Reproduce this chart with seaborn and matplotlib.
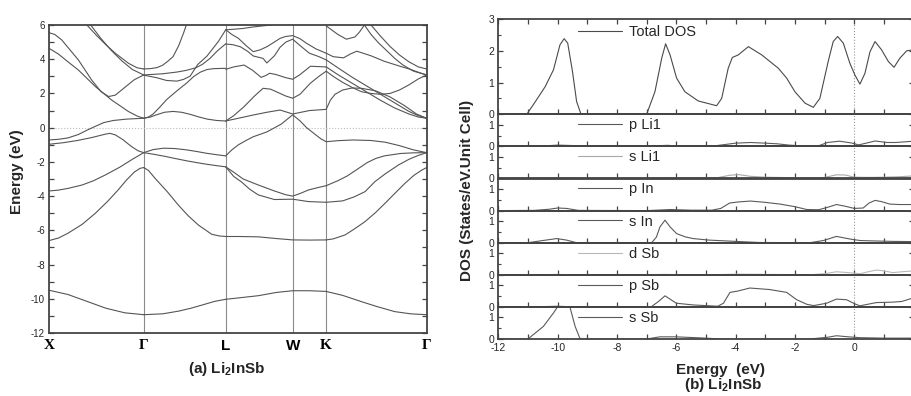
import matplotlib
matplotlib.use("Agg")
import matplotlib.pyplot as plt
import seaborn as sns
import pandas as pd
from matplotlib.ticker import MultipleLocator, FixedLocator

sns.set_style("ticks")
plt.rcParams["font.family"] = ["Liberation Sans", "DejaVu Sans"]
plt.rcParams["mathtext.fontset"] = "custom"
plt.rcParams["mathtext.rm"] = "Liberation Sans"
plt.rcParams["mathtext.bf"] = "Liberation Sans:bold"
plt.rcParams["axes.unicode_minus"] = False

# ---------------- band structure data (k in path units, E in eV) ----------------
K_POINTS = [0.0, 1.0, 1.866, 2.573, 2.927, 3.988]
K_LABELS = ["X", "\u0393", "L", "W", "K", "\u0393"]
K_FONTS = ["Liberation Serif", "Liberation Serif", "Liberation Sans",
           "Liberation Sans", "Liberation Serif", "Liberation Serif"]

# X - Gamma
xg_1 = [(0, -9.5), (0.2, -9.75), (0.4, -10.15), (0.6, -10.55), (0.8, -10.82), (1, -10.93)]
xg_2 = [(0, -6.6), (0.1, -6.45), (0.2, -6.17), (0.35, -5.65), (0.49, -5.0), (0.62, -4.3),
        (0.73, -3.64), (0.82, -3.05), (0.9, -2.6), (0.96, -2.38), (1, -2.33)]
xg_3 = [(0, -3.7), (0.1, -3.65), (0.2, -3.55), (0.35, -3.35), (0.47, -3.1), (0.6, -2.75),
        (0.75, -2.3), (0.88, -1.85), (1, -1.46)]
xg_4 = [(0, -0.97), (0.15, -0.88), (0.3, -0.75), (0.45, -0.58), (0.58, -0.4), (0.64, -0.33),
        (0.7, -0.42), (0.78, -0.7), (0.87, -1.1), (0.94, -1.35), (1, -1.46)]
xg_5 = [(0, -0.72), (0.1, -0.68), (0.2, -0.6), (0.31, -0.4), (0.4, -0.15), (0.49, 0.08),
        (0.58, 0.3), (0.68, 0.42), (0.82, 0.5), (1, 0.55)]
xg_6 = [(0, 4.64), (0.1, 4.3), (0.2, 3.85), (0.31, 3.37), (0.49, 2.4), (0.66, 1.62),
        (0.84, 0.94), (0.93, 0.68), (1, 0.55)]
xg_7 = [(0, 5.55), (0.06, 5.45), (0.134, 5.13), (0.31, 3.96), (0.45, 2.79), (0.55, 2.1),
        (0.63, 1.82), (0.7, 1.9), (0.8, 2.35), (0.9, 2.8), (1, 3.08)]
xg_8 = [(0.40, 6.0), (0.5, 5.4), (0.6, 4.85), (0.7, 4.35), (0.84, 3.76), (0.93, 3.5), (1, 3.43)]
xg_9 = [(0.44, 6.0), (0.55, 5.2), (0.66, 4.5), (0.77, 3.9), (0.88, 3.4), (1, 3.08)]

# Gamma - L
gl_1 = [(1, -10.93), (1.2, -10.88), (1.37, -10.72), (1.5, -10.55), (1.62, -10.36),
        (1.75, -10.15), (1.866, -10.03)]
gl_2 = [(1, -2.33), (1.05, -2.5), (1.12, -2.96), (1.25, -3.75), (1.365, -4.52), (1.47, -5.15),
        (1.577, -5.69), (1.718, -6.23), (1.8, -6.33), (1.866, -6.36)]
gl_3 = [(1, -1.46), (1.1, -1.28), (1.21, -1.2), (1.33, -1.22), (1.456, -1.3), (1.567, -1.4),
        (1.667, -1.5), (1.77, -1.58), (1.866, -1.65)]
gl_4 = [(1, -1.46), (1.1, -1.55), (1.21, -1.66), (1.33, -1.8), (1.456, -1.94), (1.567, -2.05),
        (1.667, -2.14), (1.77, -2.22), (1.866, -2.29)]
gl_5 = [(1, 0.55), (1.07, 0.62), (1.14, 0.76), (1.22, 0.9), (1.31, 0.95), (1.4, 0.9),
        (1.49, 0.78), (1.58, 0.63), (1.67, 0.5), (1.77, 0.42), (1.866, 0.39)]
gl_6 = [(1, 0.55), (1.05, 0.62), (1.1, 0.8), (1.17, 1.2), (1.244, 1.65), (1.35, 2.15),
        (1.456, 2.62), (1.53, 3.0), (1.6, 3.25), (1.67, 3.4), (1.74, 3.45), (1.866, 3.47)]
gl_7 = [(1, 3.43), (1.07, 3.45), (1.14, 3.51), (1.2, 3.65), (1.25, 3.86), (1.31, 4.15),
        (1.37, 4.8), (1.42, 5.52), (1.45, 6.0)]
gl_8 = [(1, 3.08), (1.2, 3.15), (1.35, 3.25), (1.45, 3.35), (1.55, 3.5), (1.62, 3.7),
        (1.7, 4.05), (1.78, 4.5), (1.866, 4.9)]
gl_9 = [(1, 3.07), (1.137, 2.92), (1.24, 2.76), (1.35, 2.72), (1.42, 2.82), (1.49, 3.01),
        (1.57, 3.69), (1.666, 4.17), (1.79, 5.05), (1.866, 5.72)]

# L - W - K
lk_1 = [(1.866, -10.03), (2.0, -9.95), (2.21, -9.82), (2.4, -9.63), (2.573, -9.53),
        (2.75, -9.53), (2.927, -9.57)]
lk_2 = [(1.866, -6.36), (2.0, -6.36), (2.21, -6.38), (2.4, -6.48), (2.573, -6.56),
        (2.75, -6.57), (2.927, -6.56)]
lk_3 = [(1.866, -2.29), (1.95, -2.6), (2.05, -3.0), (2.21, -3.35), (2.38, -3.7), (2.5, -3.92),
        (2.573, -4.0), (2.65, -3.85), (2.74, -3.64), (2.84, -3.5), (2.927, -3.39)]
lk_4 = [(1.866, -2.29), (1.95, -2.85), (2.03, -3.16), (2.12, -3.6), (2.21, -3.93),
        (2.38, -4.2), (2.573, -4.18), (2.74, -4.32), (2.927, -4.36)]
lk_5 = [(1.866, -1.65), (1.93, -1.3), (2.0, -1.0), (2.08, -0.75), (2.157, -0.53), (2.3, -0.25),
        (2.45, 0.2), (2.573, 0.75), (2.65, 0.4), (2.72, 0.0), (2.8, -0.35), (2.87, -0.65),
        (2.927, -0.82)]
lk_6 = [(1.866, 0.39), (2.0, 0.55), (2.157, 0.74), (2.3, 0.9), (2.44, 1.03), (2.573, 0.8),
        (2.75, 1.0), (2.927, 1.07)]
lk_7 = [(1.866, 0.39), (1.95, 0.7), (2.06, 1.23), (2.17, 1.85), (2.26, 2.3), (2.34, 2.25),
        (2.42, 2.05), (2.5, 1.85), (2.573, 1.72), (2.65, 1.95), (2.76, 2.6), (2.85, 3.0),
        (2.927, 3.3)]
lk_8 = [(1.866, 3.41), (1.95, 3.55), (2.06, 3.66), (2.15, 3.35), (2.24, 2.94), (2.29, 3.05),
        (2.33, 3.18), (2.4, 3.1), (2.5, 2.92), (2.573, 2.83), (2.65, 3.1), (2.72, 3.41),
        (2.76, 3.59), (2.84, 3.57), (2.927, 3.55)]
lk_9 = [(1.866, 4.89), (1.94, 4.85), (2.02, 4.73), (2.1, 4.45), (2.157, 4.19), (2.26, 4.05),
        (2.3, 3.78), (2.38, 4.2), (2.44, 4.7), (2.5, 5.0), (2.573, 5.17), (2.65, 4.8),
        (2.75, 4.35), (2.85, 4.15), (2.927, 3.96)]
lk_10 = [(1.866, 5.72), (1.93, 5.45), (2.0, 5.22), (2.08, 4.8), (2.157, 4.44), (2.23, 4.55),
         (2.3, 4.73), (2.37, 4.97), (2.44, 5.22), (2.5, 5.33), (2.573, 5.38), (2.65, 5.2),
         (2.72, 4.93), (2.82, 4.6), (2.927, 4.35)]
lk_11 = [(1.866, 5.72), (1.95, 5.75), (2.05, 5.8), (2.15, 5.88), (2.26, 5.95), (2.35, 6.0)]

# K - Gamma
kg_1 = [(2.927, -9.57), (3.1, -9.8), (3.3, -10.17), (3.46, -10.45), (3.65, -10.75),
        (3.82, -10.88), (3.988, -10.93)]
kg_2 = [(2.927, -6.56), (3.0, -6.5), (3.126, -6.27), (3.23, -5.9), (3.337, -5.49),
        (3.45, -4.95), (3.548, -4.42), (3.65, -3.85), (3.759, -3.25), (3.85, -2.8),
        (3.93, -2.5), (3.988, -2.33)]
kg_3 = [(2.927, -3.39), (3.05, -3.1), (3.15, -2.82), (3.25, -2.45), (3.36, -2.04),
        (3.45, -1.8), (3.54, -1.65), (3.71, -1.51), (3.85, -1.47), (3.988, -1.46)]
kg_4 = [(2.927, -4.36), (3.1, -4.28), (3.22, -4.05), (3.337, -3.74), (3.44, -3.16),
        (3.55, -2.7), (3.69, -2.18), (3.8, -1.85), (3.9, -1.62), (3.988, -1.46)]
kg_5 = [(2.927, -0.82), (3.05, -0.76), (3.21, -0.72), (3.4, -0.75), (3.55, -0.85),
        (3.7, -1.05), (3.85, -1.3), (3.988, -1.46)]
kg_6 = [(2.927, 1.07), (2.97, 1.6), (3.02, 1.95), (3.1, 2.2), (3.2, 2.32), (3.3, 2.3),
        (3.45, 2.15), (3.6, 1.8), (3.75, 1.3), (3.88, 0.8), (3.988, 0.55)]
kg_7 = [(2.927, 3.3), (3.0, 3.0), (3.1, 2.65), (3.2, 2.35), (3.3, 2.1), (3.4, 2.0),
        (3.5, 1.95), (3.6, 2.0), (3.7, 2.2), (3.8, 2.5), (3.9, 2.85), (3.988, 3.08)]
kg_8 = [(2.927, 3.55), (3.05, 3.1), (3.2, 2.6), (3.35, 2.1), (3.5, 1.6), (3.65, 1.15),
        (3.8, 0.8), (3.9, 0.62), (3.988, 0.55)]
kg_9 = [(2.927, 3.96), (3.05, 3.5), (3.2, 2.95), (3.35, 2.45), (3.5, 1.95), (3.65, 1.45),
        (3.8, 0.95), (3.9, 0.7), (3.988, 0.55)]
kg_10 = [(2.927, 4.35), (3.0, 4.15), (3.11, 4.08), (3.18, 4.3), (3.25, 4.47), (3.4, 4.2),
         (3.54, 3.88), (3.7, 3.6), (3.82, 3.4), (3.92, 3.2), (3.988, 3.08)]
kg_11 = [(2.927, 5.95), (3.0, 5.65), (3.05, 5.45), (3.14, 5.17), (3.23, 5.3), (3.28, 5.6),
         (3.33, 6.0), (3.4, 5.45), (3.48, 4.95), (3.566, 4.5), (3.65, 4.05), (3.74, 3.65),
         (3.85, 3.3), (3.988, 3.08)]
kg_12 = [(3.4, 6.0), (3.5, 5.35), (3.6, 4.75), (3.7, 4.25), (3.8, 3.85), (3.9, 3.55),
         (3.988, 3.43)]

BANDS = [xg_1, xg_2, xg_3, xg_4, xg_5, xg_6, xg_7, xg_8, xg_9,
         gl_1, gl_2, gl_3, gl_4, gl_5, gl_6, gl_7, gl_8, gl_9,
         lk_1, lk_2, lk_3, lk_4, lk_5, lk_6, lk_7, lk_8, lk_9, lk_10, lk_11,
         kg_1, kg_2, kg_3, kg_4, kg_5, kg_6, kg_7, kg_8, kg_9, kg_10, kg_11, kg_12]

# ---------------- DOS data ----------------
TOTAL_E = [-12.0, -11.04, -10.75, -10.42, -10.14, -9.92, -9.78, -9.66, -9.5, -9.36, -9.21,
           -7.0, -6.72, -6.49, -6.36, -6.21, -5.99, -5.71, -5.26, -4.64, -4.47, -4.25, -4.11,
           -3.91, -3.57, -3.12, -2.56, -2.28, -2.0, -1.66, -1.38, -1.16, -0.88, -0.71, -0.56,
           -0.37, -0.15, 0.02, 0.19, 0.36, 0.53, 0.7, 0.92, 1.15, 1.34, 1.54, 1.77, 2.0]
TOTAL_D = [0, 0, 0.4, 0.87, 1.4, 2.19, 2.38, 2.24, 1.35, 0.4, 0, 0, 0.71, 1.77, 2.22, 1.87,
           1.14, 0.71, 0.42, 0.27, 0.5, 1.45, 1.79, 1.87, 2.13, 1.87, 1.45, 1.14, 0.71, 0.35,
           0.22, 0.5, 1.66, 2.29, 2.45, 2.24, 1.61, 1.24, 0.95, 1.29, 1.97, 2.29, 2.03, 1.66,
           1.48, 1.77, 2.0, 2.03]

P_LI1_E = [-12, -10.6, -10.0, -9.5, -9.1, -6.9, -6.6, -6.3, -6.0, -4.8, -4.4, -4.0, -3.5, -3.0,
           -2.6, -2.2, -1.6, -1.2, -0.9, -0.5, -0.1, 0.15, 0.4, 0.7, 1.1, 1.4, 2.0]
P_LI1_D = [0, 0.01, 0.06, 0.04, 0, 0, 0.03, 0.05, 0.02, 0.01, 0.08, 0.15, 0.18, 0.15, 0.12,
           0.06, 0.01, 0.03, 0.18, 0.24, 0.16, 0.07, 0.15, 0.25, 0.18, 0.18, 0.24]

S_LI1_E = [-12, -10.6, -10.0, -9.4, -7.0, -6.5, -6.2, -5.5, -4.6, -4.2, -3.9, -3.5, -3.0, -2.2,
           -1.5, -1.0, -0.6, -0.3, 0.0, 0.5, 1.0, 1.5, 2.0]
S_LI1_D = [0, 0.01, 0.03, 0.0, 0, 0.02, 0.03, 0.02, 0.04, 0.15, 0.18, 0.1, 0.06, 0.04, 0.0,
           0.05, 0.17, 0.16, 0.06, 0.05, 0.06, 0.08, 0.12]

P_IN_E = [-12, -10.8, -10.3, -10.0, -9.7, -9.3, -7.0, -6.5, -6.2, -5.5, -4.8, -4.5, -4.2, -3.9,
          -3.5, -3.0, -2.5, -2.0, -1.6, -1.2, -0.9, -0.6, -0.3, 0.0, 0.3, 0.5, 0.7, 0.9, 1.2,
          1.5, 2.0]
P_IN_D = [0, 0.01, 0.06, 0.12, 0.1, 0.01, 0, 0.03, 0.05, 0.02, 0.02, 0.1, 0.35, 0.4, 0.44,
          0.38, 0.3, 0.18, 0.05, 0.04, 0.15, 0.28, 0.2, 0.1, 0.12, 0.35, 0.47, 0.42, 0.3, 0.28,
          0.28]

S_IN_E = [-12, -11.0, -10.5, -10.03, -9.7, -9.36, -6.83, -6.67, -6.55, -6.38, -6.21, -5.99,
          -5.7, -5.43, -4.9, -4.3, -3.2, -1.5, -1.04, -0.6, -0.15, 0.2, 0.7, 1.3, 2.0]
S_IN_D = [0, 0, 0.1, 0.19, 0.12, 0, 0, 0.26, 0.73, 1.04, 0.73, 0.42, 0.27, 0.19, 0.12, 0.08,
          0.01, 0.0, 0.1, 0.29, 0.17, 0.1, 0.08, 0.06, 0.05]

D_SB_E = [-12, -10.3, -10.0, -9.6, -7.0, -6.4, -6.0, -4.5, -4.0, -3.0, -1.5, -1.0, -0.6, -0.2,
          0.2, 0.5, 0.75, 1.0, 1.3, 1.6, 2.0]
D_SB_D = [0, 0.01, 0.02, 0.0, 0, 0.02, 0.01, 0.01, 0.03, 0.02, 0.0, 0.05, 0.14, 0.1, 0.05,
          0.15, 0.22, 0.18, 0.1, 0.14, 0.18]

P_SB_E = [-12, -10.6, -10.0, -9.4, -6.85, -6.6, -6.38, -6.2, -6.0, -5.43, -4.6, -4.41, -4.19,
          -3.96, -3.52, -2.85, -2.28, -1.94, -1.6, -1.37, -0.93, -0.6, -0.26, 0.02, 0.19, 0.45,
          0.75, 1.31, 1.6, 2.0]
P_SB_D = [0, 0.01, 0.03, 0.0, 0, 0.25, 0.51, 0.35, 0.17, 0.09, 0.03, 0.17, 0.67, 0.72, 0.87,
          0.8, 0.67, 0.33, 0.12, 0.06, 0.17, 0.36, 0.33, 0.14, 0.05, 0.12, 0.2, 0.22, 0.25, 0.42]

S_SB_E = [-12, -11.0, -10.75, -10.48, -10.14, -9.97, -9.8, -9.6, -9.41, -9.24, -7.0, -6.55,
          -6.0, -5.0, -4.5, -1.5, -0.9, -0.6, -0.2, 0.2, 1.0, 2.0]
S_SB_D = [0, 0, 0.28, 0.58, 1.2, 1.55, 1.9, 1.55, 0.58, 0, 0, 0.1, 0.1, 0.04, 0.0, 0.0, 0.08,
          0.15, 0.1, 0.06, 0.04, 0.04]

DOS_NAMES = ["Total DOS", "p Li1", "s Li1", "p In", "s In", "d Sb", "p Sb", "s Sb"]
DOS_E = [TOTAL_E, P_LI1_E, S_LI1_E, P_IN_E, S_IN_E, D_SB_E, P_SB_E, S_SB_E]
DOS_D = [TOTAL_D, P_LI1_D, S_LI1_D, P_IN_D, S_IN_D, D_SB_D, P_SB_D, S_SB_D]
DOS_COLORS = ["#4a4a4a", "#5a5a5a", "#a8a8a8", "#5a5a5a", "#5a5a5a", "#b8b8b8", "#5a5a5a", "#5a5a5a"]
E_TICKS = [-12, -10, -8, -6, -4, -2, 0]

# ---------------- figure ----------------
W, H = 911, 396
fig = plt.figure(figsize=(W / 100, H / 100), dpi=100)
fig.patch.set_facecolor("white")


def rect(l, t, r, b):
    return [l / W, 1 - b / H, (r - l) / W, (b - t) / H]


SPINE_C = "#444444"

# ---- (a) band structure ----
axb = fig.add_axes(rect(49, 25, 426.7, 333))
rows = []
for i, band in enumerate(BANDS):
    for k, e in band:
        rows.append((i, k, e))
df = pd.DataFrame(rows, columns=["band", "k", "E"])
sns.lineplot(data=df, x="k", y="E", units="band", estimator=None, sort=False,
             color="#555555", lw=0.8, ax=axb, legend=False)
for kv in K_POINTS[1:-1]:
    axb.axvline(kv, color="#8a8a8a", lw=0.8, zorder=0)
axb.axhline(0, color="#bdbdbd", ls=":", lw=0.8, zorder=0)
axb.set_xlim(K_POINTS[0], K_POINTS[-1])
axb.set_ylim(-12, 6)
axb.set_xticks(K_POINTS)
axb.set_xticklabels(K_LABELS)
for lbl, fam in zip(axb.get_xticklabels(), K_FONTS):
    lbl.set_family(fam)
    lbl.set_weight("bold")
    lbl.set_size(11)
axb.tick_params(axis="x", length=0, pad=4, colors="black")
axb.yaxis.set_major_locator(MultipleLocator(2))
axb.yaxis.set_minor_locator(MultipleLocator(1))
axb.tick_params(axis="y", which="both", direction="in", left=True, right=True,
                length=3.5, width=0.9, color=SPINE_C, labelsize=7, pad=3)
axb.set_xlabel("")
axb.set_ylabel("")
for s in axb.spines.values():
    s.set_visible(True)
    s.set_linewidth(1.3)
    s.set_color(SPINE_C)

fig.text(17 / W, 1 - 172 / H, "Energy (eV)", rotation=90, ha="center", va="center",
         fontsize=11, fontweight="bold")
fig.text(227 / W, 1 - 373 / H, r"(a) Li$_\mathbf{2}$InSb", ha="center", va="baseline",
         fontsize=11, fontweight="bold")

# ---- (b) DOS ----
LEFT, RIGHT = 498.3, 913.6
for i, (E, D, name, col) in enumerate(zip(DOS_E, DOS_D, DOS_NAMES, DOS_COLORS)):
    if i == 0:
        t, b = 19.0, 114.3
    else:
        t = 114.3 + 32.1 * (i - 1)
        b = t + 32.1
    ax = fig.add_axes(rect(LEFT, t, RIGHT, b))
    sns.lineplot(x=E, y=D, color=col, lw=0.8, ax=ax, label=name, sort=False)
    ax.axvline(0, color="#9a9a9a", ls=":", lw=0.8, zorder=0)
    ax.set_xlim(-12, 2)
    ax.xaxis.set_major_locator(FixedLocator(E_TICKS))
    ax.xaxis.set_minor_locator(MultipleLocator(1))
    if i == 0:
        ax.set_ylim(0, 3)
        ax.set_yticks([0, 1, 2, 3])
        yf = 0.864
    else:
        ax.set_ylim(0, 1.48)
        ax.set_yticks([0, 1])
        yf = 0.66
    ax.yaxis.set_minor_locator(MultipleLocator(0.5))
    ax.tick_params(axis="x", which="both", direction="in", bottom=True, top=(i == 0),
                   length=3.5, width=0.9, color=SPINE_C, labelbottom=(i == 7),
                   labelsize=7.5, pad=3)
    ax.tick_params(axis="y", which="major", direction="in", left=True, right=True,
                   length=3.5, width=0.9, color=SPINE_C, labelsize=7.5, pad=3)
    ax.tick_params(axis="y", which="minor", direction="in", left=True, right=True,
                   length=2, width=0.8, color=SPINE_C)
    ax.set_xlabel("")
    ax.set_ylabel("")
    for s in ax.spines.values():
        s.set_visible(True)
        s.set_linewidth(1.3)
        s.set_color(SPINE_C)
    ax.legend(loc="center left", bbox_to_anchor=(0.192, yf), frameon=False,
              handlelength=3.0, handletextpad=0.5, borderpad=0, borderaxespad=0,
              fontsize=10.5)
    ax.set_facecolor("none")

fig.text(467 / W, 1 - 190 / H, "DOS (States/eV.Unit Cell)", rotation=90, ha="center",
         va="center", fontsize=11, fontweight="bold")
fig.text(720 / W, 1 - 374 / H, "Energy  (eV)", ha="center", va="baseline",
         fontsize=11, fontweight="bold")
fig.text(723 / W, 1 - 389.5 / H, r"(b) Li$_\mathbf{2}$InSb", ha="center", va="baseline",
         fontsize=11, fontweight="bold")

fig.savefig("out.png", dpi=100, facecolor="white")
